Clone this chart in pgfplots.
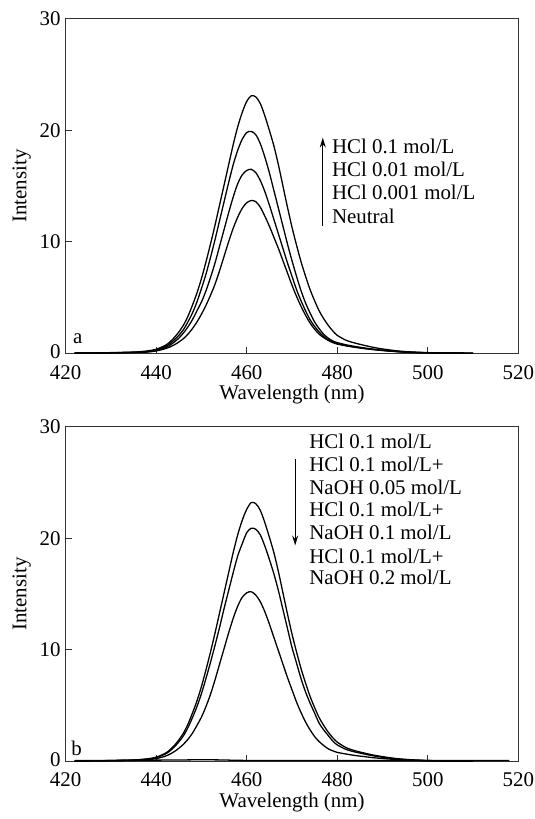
\documentclass[border=0pt]{standalone}
\usepackage{fontspec}
\setmainfont{Liberation Serif}
\usepackage{pgfplots}
\pgfplotsset{compat=1.18}
\usepackage{pgfplotstable}
\usetikzlibrary{arrows.meta}

% panel a: x, HCl 0.1, HCl 0.01, HCl 0.001, neutral
\pgfplotstableread{
x    A     B     C     D
422  0.01  0.01  0.01  0.01
425  0.02  0.02  0.02  0.02
430  0.05  0.04  0.03  0.03
435  0.10  0.08  0.07  0.06
438  0.20  0.15  0.13  0.10
440  0.35  0.30  0.25  0.20
442  0.70  0.60  0.50  0.40
443  1.00  0.85  0.70  0.55
444  1.40  1.20  1.00  0.75
445  1.90  1.60  1.35  1.00
446  2.50  2.10  1.80  1.30
447  3.30  2.80  2.35  1.70
448  4.30  3.60  3.00  2.20
449  5.40  4.60  3.80  2.80
450  6.70  5.80  4.60  3.50
451  8.20  7.10  5.60  4.30
452  9.80  8.60  6.80  5.20
453  11.50 10.20 8.10  6.20
454  13.30 11.90 9.60  7.40
455  15.10 13.60 11.10 8.70
456  16.90 15.30 12.60 10.00
457  18.70 16.90 14.00 11.20
458  20.30 18.20 15.20 12.20
459  21.60 19.20 16.00 13.00
460  22.60 19.80 16.40 13.50
461  23.10 19.90 16.50 13.70
462  23.00 19.60 16.20 13.60
463  22.40 18.80 15.50 13.10
464  21.30 17.60 14.50 12.30
465  20.00 16.20 13.30 11.40
466  18.60 14.60 12.00 10.40
467  16.90 13.00 10.70 9.40
468  15.00 11.40 9.40  8.30
469  13.10 9.80  8.10  7.20
470  11.30 8.30  6.90  6.10
471  9.70  6.90  5.70  5.10
472  8.20  5.60  4.70  4.20
473  6.90  4.50  3.80  3.40
474  5.70  3.60  3.00  2.70
475  4.70  2.80  2.40  2.15
476  3.80  2.20  1.90  1.70
477  3.10  1.70  1.50  1.40
478  2.50  1.35  1.20  1.15
479  2.00  1.10  1.00  0.95
480  1.60  0.95  0.85  0.82
482  1.15  0.75  0.68  0.65
484  0.90  0.60  0.55  0.52
486  0.70  0.47  0.43  0.41
488  0.52  0.36  0.33  0.32
490  0.38  0.27  0.25  0.24
493  0.22  0.16  0.15  0.14
496  0.12  0.09  0.08  0.07
500  0.05  0.04  0.03  0.03
505  0.01  0.01  0.01  0.01
510  0.00  0.00  0.00  0.00
}\acidtab

% panel b: x, HCl 0.1, +NaOH 0.05, +NaOH 0.1
\pgfplotstableread{
x    A     B     C
422  0.01  0.01  0.01
425  0.02  0.02  0.02
430  0.05  0.045 0.03
435  0.10  0.09  0.06
438  0.20  0.18  0.11
440  0.35  0.32  0.22
442  0.70  0.63  0.44
443  1.00  0.90  0.62
444  1.40  1.27  0.85
445  1.90  1.72  1.15
446  2.50  2.26  1.50
447  3.30  2.99  1.95
448  4.30  3.89  2.50
449  5.40  4.89  3.20
450  6.70  6.06  3.95
451  8.20  7.42  4.90
452  9.80  8.87  6.00
453  11.50 10.40 7.30
454  13.30 12.00 8.70
455  15.10 13.70 10.10
456  16.90 15.30 11.50
457  18.70 16.90 12.80
458  20.30 18.40 13.90
459  21.60 19.50 14.70
460  22.60 20.50 15.10
461  23.20 20.90 15.20
462  23.10 20.80 14.90
463  22.50 20.30 14.30
464  21.40 19.30 13.40
465  20.10 18.10 12.30
466  18.70 16.80 11.10
467  17.00 15.30 9.90
468  15.10 13.60 8.70
469  13.20 11.90 7.50
470  11.40 10.20 6.40
471  9.80  8.80  5.30
472  8.30  7.40  4.35
473  7.00  6.20  3.50
474  5.80  5.20  2.80
475  4.80  4.30  2.20
476  3.90  3.40  1.75
477  3.20  2.80  1.40
478  2.60  2.30  1.10
479  2.10  1.80  0.92
480  1.70  1.45  0.78
482  1.20  1.04  0.63
484  0.92  0.81  0.50
486  0.72  0.63  0.40
488  0.54  0.47  0.30
490  0.40  0.34  0.23
493  0.23  0.20  0.14
496  0.13  0.11  0.07
500  0.05  0.045 0.03
505  0.01  0.01  0.01
510  0.00  0.00  0.00
}\basetab

\pgfplotsset{spec/.style={
  scale only axis, width=455bp, height=336bp,
  xmin=420, xmax=520, ymin=0, ymax=30,
  xtick={420,440,...,520}, ytick={0,10,20,30},
  yticklabels={\raisebox{4bp}{0},10,20,30},
  tick align=inside, xtick pos=left, ytick pos=left,
  major tick length=6bp,
  axis line style={black!80, line width=0.9bp},
  tick style={black!80, line width=0.9bp},
  /pgf/number format/assume math mode=true,
  xticklabel style={anchor=base, yshift=-26bp, inner sep=0pt},
  yticklabel style={anchor=east, inner sep=0pt, xshift=-5bp},
  xlabel={Wavelength (nm)}, ylabel={Intensity},
  x label style={at={(axis description cs:0.5,-0.124)}, anchor=center},
  y label style={at={(axis description cs:-0.097,0.5)}, anchor=center},
  cycle list={{black}},
  every axis plot/.append style={black, line width=1.3bp, smooth, no markers, line join=round},
}}

\begin{document}
\fontsize{21bp}{25bp}\selectfont
\begin{tikzpicture}[font=\fontsize{21bp}{25bp}\selectfont]
\begin{axis}[spec, at={(0bp,0bp)}, anchor=south west]
  \addplot table[x=x, y=A] {\acidtab};
  \addplot table[x=x, y=B] {\acidtab};
  \addplot table[x=x, y=C] {\acidtab};
  \addplot table[x=x, y=D] {\acidtab};
  \draw[-{Stealth[length=10bp,width=6bp]}, line width=1.1bp] (axis cs:476.8,11.45) -- (axis cs:476.8,19.35);
  \node[anchor=west, inner sep=0pt] at (axis cs:478.8,18.6) {HCl 0.1 mol/L};
  \node[anchor=west, inner sep=0pt] at (axis cs:478.8,16.5) {HCl 0.01 mol/L};
  \node[anchor=west, inner sep=0pt] at (axis cs:478.8,14.4) {HCl 0.001 mol/L};
  \node[anchor=west, inner sep=0pt] at (axis cs:478.8,12.3) {Neutral};
  \node[anchor=base west, inner sep=0pt] at (axis cs:421.6,0.9) {a};
\end{axis}
\begin{axis}[spec, at={(0bp,-410bp)}, anchor=south west]
  \addplot table[x=x, y=A] {\basetab};
  \addplot table[x=x, y=B] {\basetab};
  \addplot table[x=x, y=C] {\basetab};
  \addplot coordinates {(422,0.06) (430,0.06) (445,0.10) (450,0.12) (455,0.10) (460,0.06) (480,0.05) (500,0.05) (518,0.05)};
  \draw[-{Stealth[length=10bp,width=6bp]}, line width=1.1bp] (axis cs:470.7,27.1) -- (axis cs:470.7,19.35);
  \node[anchor=west, inner sep=0pt] at (axis cs:473.8,28.7) {HCl 0.1 mol/L};
  \node[anchor=west, inner sep=0pt] at (axis cs:473.8,26.6) {HCl 0.1 mol/L+};
  \node[anchor=west, inner sep=0pt] at (axis cs:473.8,24.6) {NaOH 0.05 mol/L};
  \node[anchor=west, inner sep=0pt] at (axis cs:473.8,22.6) {HCl 0.1 mol/L+};
  \node[anchor=west, inner sep=0pt] at (axis cs:473.8,20.5) {NaOH 0.1 mol/L};
  \node[anchor=west, inner sep=0pt] at (axis cs:473.8,18.4) {HCl 0.1 mol/L+};
  \node[anchor=west, inner sep=0pt] at (axis cs:473.8,16.5) {NaOH 0.2 mol/L};
  \node[anchor=base west, inner sep=0pt] at (axis cs:421.2,0.5) {b};
\end{axis}
\path (-66bp,-464bp) rectangle (469bp,355bp);
\end{tikzpicture}
\end{document}
